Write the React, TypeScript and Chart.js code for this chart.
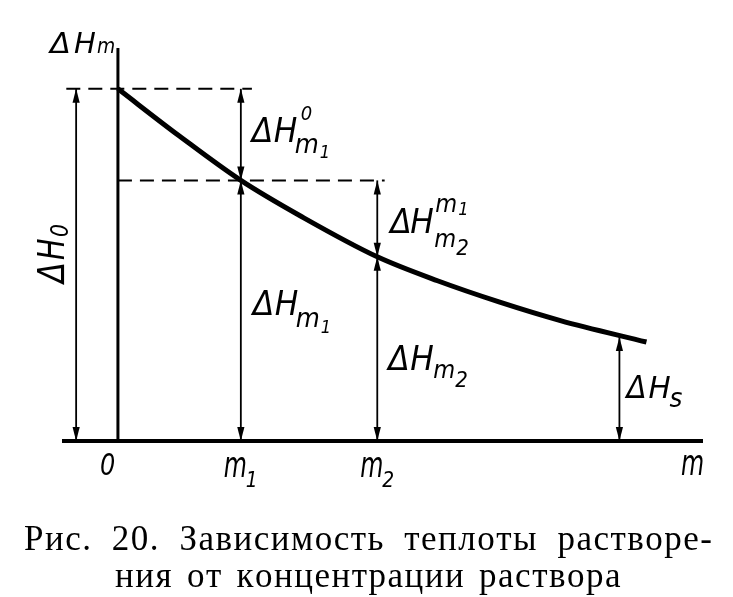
import React, { useEffect, useRef } from 'react';
import { Chart, registerables } from 'chart.js';

Chart.register(...registerables);

// ---- data (arbitrary units: m1 = 1, ΔH0 = 10) ----
const xMin = -0.455;
const xMax = 4.76;
const yMin = 0;
const yMax = 11.16;

const curveX = [0, 0.5, 1.0, 1.5, 2.11, 2.6, 3.1, 3.6, 4.3];
const curveY = [10, 8.66, 7.4, 6.36, 5.23, 4.55, 3.95, 3.42, 2.81];

const tickValues = [0, 1.0, 2.11];
const tickNames = ['0', 'm1', 'm2'];

const dash1X = [-0.42, 1.09];
const dash1Y = 10;
const dash2X = [0, 2.17];
const dash2Y = 7.4;

// vertical dimension arrows: x, low end, high end
const arrowX = [-0.34, 1.0, 1.0, 2.11, 2.11, 4.08];
const arrowLo = [0, 7.4, 0, 5.23, 0, 0];
const arrowHi = [10, 10, 7.4, 7.4, 5.23, 2.95];

const captionLines = [
  'Рис. 20. Зависимость теплоты растворе-',
  'ния от концентрации раствора',
];

// ---- drawing helpers ----
const SANS = '"DejaVu Sans", sans-serif';
const SERIF = '"Liberation Serif", "DejaVu Serif", serif';

type Piece = [string, number, number, number, number]; // text, dx, dy, size, sx

function drawPieces(ctx: CanvasRenderingContext2D, ax: number, ay: number, pieces: Piece[]) {
  for (const [t, dx, dy, size, sx] of pieces) {
    ctx.save();
    ctx.translate(ax + dx, ay + dy);
    ctx.scale(sx, 1);
    ctx.font = `italic ${size}px ${SANS}`;
    ctx.textAlign = 'left';
    ctx.textBaseline = 'alphabetic';
    ctx.fillStyle = '#000';
    ctx.fillText(t, 0, 0);
    ctx.restore();
  }
}

function head(ctx: CanvasRenderingContext2D, x: number, yTip: number, dir: number) {
  const len = 14;
  const w = 3.6;
  ctx.beginPath();
  ctx.moveTo(x, yTip);
  ctx.lineTo(x - w, yTip - dir * len);
  ctx.lineTo(x + w, yTip - dir * len);
  ctx.closePath();
  ctx.fill();
}

// label pieces for each arrow, offsets from (arrow x, arrow middle)
const arrowLabels: (Piece[] | null)[] = [
  null,
  [
    ['Δ', 11, 7, 33, 0.95],
    ['H', 33, 7, 33, 0.95],
    ['0', 60, -15, 20, 0.9],
    ['m', 54, 18, 26, 0.95],
    ['1', 79, 23, 18, 0.9],
  ],
  [
    ['Δ', 12, 4, 33, 0.95],
    ['H', 34, 4, 33, 0.95],
    ['m', 55, 16, 26, 0.95],
    ['1', 80, 22, 18, 0.9],
  ],
  [
    ['Δ', 13, 14, 33, 0.95],
    ['H', 33, 14, 33, 0.95],
    ['m', 58, -7, 25, 0.9],
    ['1', 81, -4, 18, 0.9],
    ['m', 57, 28, 25, 0.9],
    ['2', 79, 36, 22, 0.9],
  ],
  [
    ['Δ', 11, 21, 33, 0.95],
    ['H', 33, 21, 33, 0.95],
    ['m', 56, 29, 25, 0.9],
    ['2', 78, 38, 22, 0.9],
  ],
  [
    ['Δ', 7, 9, 31, 0.95],
    ['H', 29, 9, 31, 0.95],
    ['s', 50, 18, 26, 0.95],
  ],
];

const figurePlugin = {
  id: 'figure',
  afterDatasetsDraw(chart: any) {
    const ctx: CanvasRenderingContext2D = chart.ctx;
    const xs = chart.scales.x;
    const ys = chart.scales.y;
    ctx.save();
    ctx.fillStyle = '#000';

    // arrow heads + labels
    arrowX.forEach((ax, i) => {
      const px = xs.getPixelForValue(ax);
      const pLo = ys.getPixelForValue(arrowLo[i]);
      const pHi = ys.getPixelForValue(arrowHi[i]);
      head(ctx, px, pLo, 1);
      head(ctx, px, pHi, -1);
      const lab = arrowLabels[i];
      if (lab) drawPieces(ctx, px, (pLo + pHi) / 2, lab);
    });

    // rotated ΔH0 label
    {
      const px = xs.getPixelForValue(arrowX[0]);
      const pMid = (ys.getPixelForValue(arrowLo[0]) + ys.getPixelForValue(arrowHi[0])) / 2;
      ctx.save();
      ctx.translate(px - 12, pMid + 18);
      ctx.rotate(-Math.PI / 2);
      drawPieces(ctx, 0, 0, [
        ['Δ', 0, 0, 38, 0.8],
        ['H', 23, 0, 38, 0.75],
        ['0', 46, 4, 24, 0.85],
      ]);
      ctx.restore();
    }

    // y axis title ΔHm
    {
      const px = xs.getPixelForValue(0);
      const py = ys.getPixelForValue(yMax);
      drawPieces(ctx, px, py, [
        ['Δ', -68, 5, 29, 1.05],
        ['H', -44, 5, 29, 1.0],
        ['m', -21, 5, 22, 0.85],
      ]);
    }

    // tick labels
    const base = ys.getPixelForValue(0);
    tickValues.forEach((v, i) => {
      const px = xs.getPixelForValue(v);
      const name = tickNames[i];
      if (name.length === 1) {
        drawPieces(ctx, px, base, [[name, -18, 34, 30, 0.8]]);
      } else {
        drawPieces(ctx, px, base, [
          [name[0], -17, 36, 36, 0.66],
          [name[1], 5, 46, 22, 0.85],
        ]);
      }
    });
    // axis name m
    drawPieces(ctx, xs.getPixelForValue(xMax), base, [['m', -22, 34, 36, 0.66]]);

    // caption
    const capBox = [
      [24, 718, 550],
      [115, 625, 587],
    ];
    ctx.font = `35px ${SERIF}`;
    ctx.textBaseline = 'alphabetic';
    ctx.textAlign = 'left';
    const ls = 1.5;
    captionLines.forEach((line, i) => {
      const [l, r, b] = capBox[i];
      const chars = Array.from(line);
      const widths = chars.map((c) => (c === ' ' ? 0 : ctx.measureText(c).width));
      const nSpaces = chars.filter((c) => c === ' ').length;
      const total = widths.reduce((a, c) => a + c, 0);
      const spaceW = (r - l - total - ls * (chars.length - 1)) / nSpaces;
      let x = l;
      chars.forEach((c, k) => {
        if (c === ' ') {
          x += spaceW;
        } else {
          ctx.fillText(c, x, b);
          x += widths[k] + ls;
        }
      });
    });
    ctx.restore();
  },
};

export default function App() {
  const ref = useRef<HTMLCanvasElement>(null);

  useEffect(() => {
    if (!ref.current) return;
    const seg = (x0: number, y0: number, x1: number, y1: number, w: number, dash: number[] = []) => ({
      data: [
        { x: x0, y: y0 },
        { x: x1, y: y1 },
      ],
      showLine: true,
      borderColor: '#000',
      borderWidth: w,
      borderDash: dash,
      pointRadius: 0,
      clip: false as any,
      borderCapStyle: 'butt' as const,
    });

    const datasets: any[] = [
      {
        data: curveX.map((x, i) => ({ x, y: curveY[i] })),
        showLine: true,
        borderColor: '#000',
        borderWidth: 5,
        pointRadius: 0,
        cubicInterpolationMode: 'monotone',
        clip: false,
      },
      seg(xMin, 0, xMax, 0, 4),
      seg(0, 0, 0, yMax, 3),
      seg(dash1X[0], dash1Y, dash1X[1], dash1Y, 2, [14, 8]),
      seg(dash2X[0], dash2Y, dash2X[1], dash2Y, 2, [14, 8]),
      ...arrowX.map((ax, i) => seg(ax, arrowLo[i], ax, arrowHi[i], 1.8)),
    ];

    const chart = new Chart(ref.current, {
      type: 'scatter',
      data: { datasets },
      options: {
        responsive: false,
        animation: false,
        devicePixelRatio: 1,
        layout: { padding: { left: 62, right: 30, top: 48, bottom: 156 } },
        plugins: {
          legend: { display: false },
          tooltip: { enabled: false },
          title: { display: false },
        },
        scales: {
          x: { type: 'linear', min: xMin, max: xMax, display: false },
          y: { type: 'linear', min: yMin, max: yMax, display: false },
        },
      },
      plugins: [figurePlugin],
    });
    return () => chart.destroy();
  }, []);

  return (
    <div style={{ position: 'absolute', left: 0, top: 0, width: 733, height: 597, background: '#fff' }}>
      <canvas ref={ref} width={733} height={597} style={{ display: 'block' }} />
    </div>
  );
}
